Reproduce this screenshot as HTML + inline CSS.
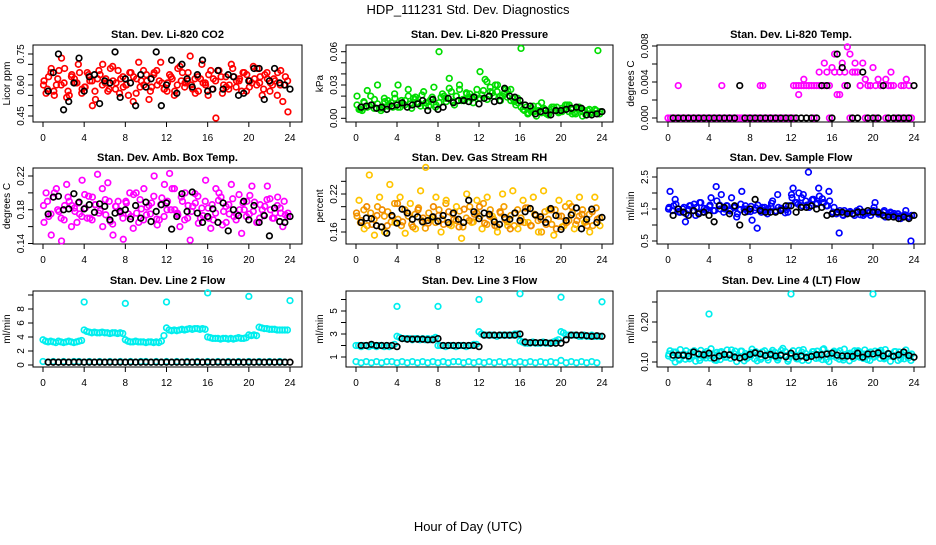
<!DOCTYPE html>
<html><head><meta charset="utf-8"><style>
html,body{margin:0;padding:0;background:#fff}
svg text{font-family:"Liberation Sans",sans-serif}
</style></head><body>
<svg id="c" width="936" height="540" viewBox="0 0 936 540" xmlns="http://www.w3.org/2000/svg">
<text x="468" y="14" font-size="13" text-anchor="middle">HDP_111231  Std. Dev. Diagnostics</text>
<text x="468" y="531" font-size="13" text-anchor="middle">Hour of Day (UTC)</text>
</svg>
<script>
// ---- data ----
const co2Red = [0.62,0.58,0.66,0.55,0.63,0.60,0.68,0.57,0.64,0.61,0.70,0.56,0.59,0.65,0.62,0.53,0.67,0.60,0.63,0.58,0.69,0.61,0.56,0.64,0.60,0.66,0.52,0.63,0.59,0.67,0.62,0.57,0.65,0.60,0.71,0.58,0.61,0.64,0.55,0.68,0.62,0.59,0.66,0.60,0.63,0.57,0.70,0.61,0.65,0.58,0.62,0.67,0.56,0.64,0.60,0.68,0.59,0.63,0.66,0.57,0.62,0.69,0.60,0.64,0.58,0.66,0.61,0.63,0.55,0.67,0.60,0.62];
const co2RedB = [0.56,0.68,0.60,0.73,0.54,0.65,0.61,0.58,0.66,0.50,0.63,0.70,0.57,0.62,0.67,0.59,0.55,0.64,0.71,0.60,0.53,0.66,0.62,0.58,0.65,0.57,0.69,0.61,0.74,0.56,0.63,0.60,0.67,0.44,0.64,0.59,0.70,0.62,0.57,0.65,0.61,0.68,0.55,0.63,0.60,0.66,0.52,0.47];
const co2RedC = [0.60,0.64,0.57,0.67,0.61,0.55,0.63,0.66,0.59,0.62,0.57,0.65,0.61,0.68,0.58,0.63,0.60,0.66,0.56,0.62,0.65,0.59,0.67,0.61,0.57,0.63,0.60,0.66,0.62,0.58,0.64,0.61,0.55,0.63,0.67,0.60,0.58,0.64,0.62,0.66,0.59,0.63,0.61,0.65,0.57,0.62,0.60,0.64];
const co2Black = [0.57,0.66,0.75,0.48,0.52,0.61,0.73,0.57,0.64,0.65,0.51,0.62,0.61,0.76,0.54,0.63,0.61,0.50,0.65,0.59,0.63,0.76,0.50,0.60,0.72,0.56,0.70,0.63,0.59,0.65,0.72,0.57,0.58,0.67,0.58,0.65,0.64,0.55,0.56,0.62,0.68,0.68,0.53,0.62,0.68,0.61,0.60,0.58];
const presGreen = [0.012,0.008,0.015,0.010,0.020,0.009,0.013,0.007,0.018,0.011,0.014,0.022,0.010,0.016,0.012,0.020,0.009,0.017,0.013,0.021,0.011,0.015,0.019,0.010,0.014,0.022,0.018,0.027,0.015,0.020,0.030,0.017,0.023,0.019,0.014,0.021,0.018,0.025,0.033,0.028,0.020,0.024,0.016,0.022,0.019,0.026,0.015,0.018,0.010,0.007,0.004,0.009,0.006,0.011,0.005,0.008,0.003,0.010,0.007,0.005,0.009,0.012,0.006,0.008,0.004,0.010,0.006,0.003,0.008,0.005,0.007,0.004];
const presGreenB = [0.020,0.007,0.025,0.012,0.030,0.009,0.016,0.010,0.030,0.013,0.026,0.018,0.014,0.024,0.011,0.028,0.060,0.020,0.036,0.012,0.026,0.016,0.022,0.019,0.042,0.035,0.024,0.030,0.020,0.026,0.016,0.012,0.063,0.010,0.006,0.002,0.014,0.004,0.008,0.010,0.006,0.012,0.004,0.009,0.002,0.007,0.005,0.061];
const presGreenC = [0.008,0.014,0.011,0.017,0.009,0.015,0.012,0.018,0.010,0.016,0.013,0.019,0.011,0.014,0.017,0.012,0.019,0.015,0.024,0.020,0.016,0.022,0.018,0.026,0.021,0.017,0.023,0.030,0.020,0.025,0.018,0.014,0.008,0.005,0.011,0.007,0.009,0.004,0.010,0.006,0.008,0.012,0.005,0.009,0.007,0.004,0.008,0.006];
const presBlack = [0.010,0.011,0.012,0.009,0.010,0.008,0.011,0.012,0.014,0.010,0.012,0.013,0.016,0.007,0.017,0.008,0.010,0.018,0.014,0.016,0.016,0.015,0.019,0.013,0.018,0.020,0.015,0.016,0.027,0.020,0.019,0.016,0.012,0.011,0.004,0.006,0.007,0.003,0.007,0.007,0.008,0.009,0.010,0.009,0.003,0.003,0.004,0.006];
const tempMag = [0,0,0,0,0.0036,0,0,0,0,0,0,0,0,0,0,0,0,0,0,0,0,0.0036,0,0,0,0,0,0,0,0,0,0,0,0,0,0,0.0036,0.0036,0,0,0,0,0,0,0,0,0,0,
0,0.0036,0.0036,0.0026,0.0036,0.0043,0.0036,0.0036,0.0036,0.0036,0.0036,0.0051,0.0036,0.0061,0.0051,0.0036,0.0056,0.0071,0.0026,0.0051,0.0061,0.0036,0.0079,0.0071,0.0051,0.0061,0.0051,0.0036,0.0061,0.0043,0.0036,0.0036,0.0056,0.0036,0.0043,0.0036,0.0036,0.0043,0.0036,0.0051,0.0036,0,0,0,0.0036,0.0043,0.0036,0];
const tempMagB = [0,0,0,0,0,0,0,0,0,0,0,0,0,0,0,0,0,0,0,0,0,0,0,0,0,0.0036,0.0036,0.0036,0,0.0036,0.0036,0,0.0051,0.0026,0.0051,0,0.0051,0.0036,0,0.0036,0,0.0036,0,0.0036,0,0.0036,0,0];
const tempBlack = [0,0,0,0,0,0,0,0,0,0,0,0,0,0.0036,0,0,0,0,0,0,0,0,0,0,0,0,0,0,0,0.0036,0.0036,0,0.0071,0.0056,0.0036,0,0,0.0051,0,0,0,0.0036,0,0,0,0,0,0.0036];
const ambMag = [0.165,0.190,0.175,0.200,0.180,0.170,0.185,0.195,0.160,0.178,0.188,0.172,0.182,0.196,0.168,0.186,0.176,0.205,0.174,0.190,0.163,0.184,0.179,0.170,0.188,0.200,0.158,0.176,0.192,0.168,0.183,0.175,0.196,0.162,0.186,0.172,0.190,0.180,0.205,0.174,0.195,0.168,0.185,0.178,0.199,0.164,0.182,0.190,0.170,0.186,0.176,0.200,0.162,0.184,0.175,0.193,0.168,0.180,0.188,0.172,0.197,0.178,0.165,0.186,0.174,0.192,0.180,0.170,0.185,0.176,0.190,0.172];
const ambMagB = [0.200,0.150,0.205,0.143,0.210,0.185,0.165,0.215,0.170,0.195,0.222,0.160,0.212,0.150,0.190,0.145,0.175,0.198,0.165,0.205,0.185,0.220,0.168,0.210,0.223,0.180,0.160,0.200,0.144,0.188,0.170,0.215,0.158,0.205,0.195,0.165,0.210,0.175,0.152,0.190,0.208,0.165,0.180,0.208,0.170,0.195,0.160,0.176];
const ambMagC = [0.185,0.172,0.195,0.178,0.168,0.190,0.182,0.175,0.198,0.170,0.186,0.179,0.192,0.166,0.184,0.176,0.190,0.172,0.200,0.181,0.174,0.188,0.169,0.194,0.180,0.205,0.176,0.190,0.170,0.184,0.196,0.173,0.182,0.168,0.191,0.178,0.186,0.172,0.198,0.180,0.175,0.189,0.170,0.184,0.193,0.176,0.182,0.174];
const ambBlack = [0.175,0.195,0.196,0.180,0.181,0.199,0.189,0.181,0.186,0.177,0.187,0.184,0.168,0.176,0.178,0.180,0.169,0.185,0.170,0.189,0.166,0.178,0.186,0.188,0.157,0.172,0.199,0.178,0.201,0.176,0.165,0.172,0.181,0.165,0.188,0.155,0.180,0.173,0.190,0.168,0.185,0.165,0.173,0.149,0.182,0.166,0.165,0.172];
const rhOrange = [0.185,0.175,0.195,0.170,0.190,0.180,0.200,0.168,0.185,0.192,0.176,0.205,0.180,0.170,0.195,0.185,0.172,0.188,0.198,0.178,0.166,0.190,0.183,0.175,0.195,0.180,0.205,0.172,0.188,0.178,0.193,0.168,0.182,0.200,0.176,0.190,0.185,0.205,0.172,0.195,0.180,0.168,0.190,0.200,0.176,0.186,0.170,0.195,0.182,0.175,0.198,0.170,0.188,0.178,0.160,0.192,0.180,0.172,0.195,0.185,0.168,0.200,0.178,0.190,0.172,0.185,0.195,0.176,0.188,0.170,0.198,0.182];
const rhOrangeB = [0.210,0.165,0.250,0.155,0.215,0.160,0.235,0.175,0.215,0.158,0.205,0.165,0.225,0.262,0.180,0.215,0.160,0.210,0.170,0.200,0.150,0.220,0.175,0.210,0.165,0.215,0.185,0.160,0.220,0.170,0.225,0.165,0.210,0.175,0.215,0.160,0.225,0.195,0.155,0.210,0.170,0.205,0.165,0.215,0.175,0.160,0.215,0.170];
const rhOrangeC = [0.190,0.178,0.200,0.172,0.186,0.195,0.170,0.184,0.205,0.176,0.190,0.168,0.195,0.182,0.174,0.200,0.186,0.172,0.192,0.180,0.168,0.196,0.178,0.188,0.200,0.174,0.185,0.170,0.192,0.180,0.165,0.190,0.176,0.198,0.170,0.186,0.180,0.172,0.195,0.165,0.185,0.175,0.200,0.178,0.188,0.170,0.192,0.180];
const rhBlack = [0.175,0.182,0.181,0.170,0.168,0.158,0.186,0.174,0.196,0.190,0.180,0.184,0.176,0.178,0.184,0.177,0.186,0.175,0.190,0.180,0.175,0.210,0.192,0.181,0.190,0.188,0.176,0.172,0.183,0.180,0.190,0.178,0.192,0.197,0.187,0.184,0.175,0.197,0.186,0.164,0.178,0.187,0.198,0.165,0.180,0.196,0.175,0.183];
const flowBlue = [1.55,1.45,1.65,1.40,1.50,1.35,1.60,1.45,1.55,1.70,1.40,1.50,1.62,1.45,1.75,1.50,1.40,1.60,1.48,1.55,1.35,1.65,1.50,1.42,1.58,1.46,1.62,1.40,1.55,1.50,1.68,1.42,1.55,1.48,1.38,1.60,1.85,1.70,2.00,1.60,1.75,1.55,1.80,1.65,1.90,1.70,1.60,1.75,1.40,1.35,1.45,1.30,1.38,1.42,1.35,1.45,1.32,1.40,1.38,1.30,1.55,1.40,1.35,1.45,1.32,1.38,1.30,1.35,1.28,1.32,1.25,1.30];
const flowBlueB = [2.05,1.80,1.40,1.10,1.60,1.30,1.70,1.45,1.85,2.20,1.95,1.60,1.85,1.25,2.05,1.50,1.15,0.90,1.55,1.35,1.75,1.95,1.50,1.40,2.15,1.65,1.95,2.65,1.80,2.15,1.70,2.05,1.55,0.75,1.45,1.40,1.30,1.50,1.35,1.40,1.70,1.35,1.25,1.40,1.30,1.20,1.45,0.50];
const flowBlueC = [1.50,1.60,1.42,1.55,1.48,1.65,1.40,1.52,1.58,1.45,1.62,1.50,1.44,1.56,1.48,1.60,1.42,1.54,1.50,1.46,1.58,1.44,1.52,1.48,1.95,1.70,1.85,1.62,1.78,1.68,1.82,1.60,1.35,1.40,1.32,1.38,1.36,1.42,1.30,1.38,1.45,1.34,1.40,1.32,1.36,1.28,1.30,1.26];
const flowBlack = [1.30,1.50,1.40,1.30,1.45,1.35,1.40,1.30,1.10,1.60,1.55,1.35,1.60,1.00,1.40,1.50,1.80,1.45,1.40,1.40,1.40,1.45,1.60,1.60,1.40,1.55,1.55,1.60,1.50,1.55,1.30,1.35,1.40,1.40,1.35,1.35,1.40,1.40,1.45,1.40,1.40,1.30,1.25,1.25,1.20,1.25,1.20,1.30];
const line2Cyan = [3.6,3.4,3.3,3.4,3.3,3.2,3.4,3.3,3.2,3.3,3.4,3.3,3.2,3.3,3.4,3.5,5.0,4.8,4.7,4.6,4.7,4.6,4.6,4.7,4.6,4.6,4.5,4.6,4.6,4.5,4.6,4.5,3.6,3.4,3.3,3.3,3.4,3.3,3.3,3.3,3.2,3.3,3.3,3.2,3.3,3.2,3.4,4.2,5.3,5.0,4.9,5.0,4.9,5.0,5.1,5.0,5.1,5.2,5.1,5.2,5.2,5.1,5.2,5.1,4.0,3.9,3.8,3.8,3.8,3.7,3.8,3.8,3.7,3.8,3.7,3.8,3.9,3.8,3.8,3.9,4.3,4.2,4.3,4.2,5.4,5.3,5.2,5.2,5.1,5.1,5.1,5.0,5.0,5.0,5.0,5.0];
const line2Low = [0.5,0.4,0.5,0.4,0.5,0.4,0.5,0.5,0.4,0.5,0.4,0.5,0.4,0.5,0.4,0.5,0.4,0.5,0.4,0.5,0.5,0.4,0.5,0.4,0.5,0.4,0.5,0.4,0.5,0.4,0.5,0.4,0.5,0.4,0.5,0.4,0.5,0.4,0.5,0.4,0.5,0.4,0.5,0.4,0.5,0.4,0.5,0.4];
const line2Black = [0.4,0.4,0.4,0.4,0.4,0.4,0.4,0.4,0.4,0.4,0.4,0.4,0.4,0.4,0.4,0.4,0.4,0.4,0.4,0.4,0.4,0.4,0.4,0.4,0.4,0.4,0.4,0.4,0.4,0.4,0.4,0.4,0.4,0.4,0.4,0.4,0.4,0.4,0.4,0.4,0.4,0.4,0.4,0.4,0.4,0.4,0.4,0.4];
const line2OutHours = [4, 8, 12, 16, 20, 24];
const line2OutVals = [9.0, 8.8, 9.0, 10.3, 9.8, 9.2];
const line3Cyan = [2.0,2.0,1.9,2.0,2.0,1.9,2.0,2.0,1.9,2.0,2.0,1.9,2.0,1.9,2.0,2.1,2.8,2.7,2.6,2.6,2.6,2.6,2.5,2.6,2.6,2.5,2.6,2.5,2.6,2.5,2.6,2.7,2.0,2.0,2.0,1.9,2.0,2.0,2.0,1.9,2.0,2.0,2.0,1.9,2.0,2.0,2.1,2.1,3.2,3.0,2.9,2.9,2.9,2.9,2.9,2.8,2.9,2.9,2.9,2.9,2.9,2.9,3.0,3.0,2.4,2.3,2.2,2.2,2.2,2.3,2.2,2.2,2.2,2.3,2.2,2.2,2.2,2.3,2.4,2.5,3.2,3.1,2.9,2.9,2.9,2.9,2.9,2.8,2.8,2.9,2.8,2.8,2.9,2.8,2.8,2.8];
const line3Low = [0.6,0.5,0.6,0.5,0.6,0.5,0.6,0.6,0.5,0.6,0.5,0.6,0.5,0.6,0.5,0.6,0.5,0.6,0.5,0.6,0.6,0.5,0.6,0.5,0.6,0.5,0.6,0.5,0.6,0.5,0.6,0.5,0.6,0.5,0.6,0.5,0.6,0.5,0.6,0.5,0.7,0.5,0.6,0.5,0.6,0.5,0.6,0.5];
const line3Black = [2.0,2.0,2.1,2.0,2.0,2.0,2.0,1.9,2.6,2.55,2.55,2.55,2.55,2.5,2.5,2.6,2.0,2.0,2.0,2.0,2.0,2.0,2.0,1.9,2.9,2.9,2.9,2.9,2.9,2.9,2.9,3.0,2.3,2.25,2.25,2.25,2.25,2.2,2.2,2.2,2.5,2.9,2.9,2.9,2.85,2.8,2.85,2.8];
const line3OutHours = [4, 8, 12, 16, 20, 24];
const line3OutVals = [5.4, 5.4, 6.0, 6.5, 6.2, 5.8];
const line4Cyan = [0.120,0.110,0.125,0.105,0.115,0.128,0.108,0.118,0.122,0.104,0.113,0.126,0.110,0.119,0.124,0.106,0.116,0.130,0.109,0.121,0.114,0.127,0.103,0.117,0.123,0.108,0.119,0.112,0.128,0.105,0.116,0.124,0.110,0.120,0.126,0.107,0.118,0.113,0.129,0.104,0.121,0.115,0.126,0.109,0.119,0.131,0.106,0.117,0.124,0.111,0.128,0.105,0.118,0.122,0.109,0.127,0.114,0.120,0.106,0.125,0.112,0.118,0.129,0.108,0.121,0.115,0.126,0.104,0.117,0.123,0.110,0.120];
const line4CyanB = [0.128,0.100,0.131,0.107,0.124,0.102,0.129,0.110,0.133,0.104,0.126,0.112,0.130,0.101,0.127,0.109,0.132,0.103,0.125,0.111,0.129,0.105,0.134,0.102,0.128,0.108,0.131,0.104,0.126,0.110,0.133,0.101,0.127,0.107,0.132,0.103,0.128,0.112,0.130,0.104,0.127,0.109,0.131,0.102,0.126,0.108,0.130,0.104];
const line4CyanC = [0.115,0.125,0.108,0.120,0.113,0.128,0.110,0.122,0.117,0.105,0.124,0.112,0.119,0.127,0.109,0.121,0.114,0.126,0.107,0.118,0.123,0.111,0.129,0.116,0.120,0.108,0.125,0.113,0.119,0.127,0.106,0.122,0.115,0.124,0.110,0.121,0.118,0.128,0.109,0.123,0.114,0.126,0.111,0.120,0.116,0.125,0.108,0.119];
const line4Black = [0.117,0.117,0.117,0.115,0.125,0.120,0.118,0.122,0.110,0.115,0.119,0.118,0.112,0.110,0.113,0.119,0.123,0.120,0.116,0.119,0.115,0.117,0.113,0.122,0.113,0.115,0.111,0.114,0.118,0.118,0.120,0.122,0.117,0.115,0.115,0.114,0.122,0.112,0.120,0.120,0.123,0.115,0.121,0.114,0.118,0.125,0.116,0.112];
const line4OutHours = [4, 12, 20];
const line4OutVals = [0.22, 0.27, 0.27];
const xTicks = [0, 4, 8, 12, 16, 20, 24];

// ---- drawing ----
const svg = document.getElementById('c');
const NS = 'http://www.w3.org/2000/svg';
function mk(tag, attrs) { const e = document.createElementNS(NS, tag); for (const k in attrs) e.setAttribute(k, attrs[k]); svg.appendChild(e); return e; }
const cols = [{l:33,r:302,x0:43,x24:290},{l:346,r:613,x0:356,x24:602},{l:657,r:925,x0:668,x24:914}];
const rows = [{t:45,b:122},{t:168,b:244},{t:291,b:367}];

function panel(name, title, ytitle, ci, ri, v0, p0, v1, p1, ticks, labels, dec, series) {
  const c = cols[ci], r = rows[ri];
  const xs = h => c.x0 + (c.x24 - c.x0) * h / 24;
  const ys = v => p0 + (p1 - p0) * (v - v0) / (v1 - v0);
  const g = mk('g', {});
  
  
  const box = mk('rect', {x:c.l, y:r.t, width:c.r-c.l, height:r.b-r.t, fill:'none', stroke:'#000', 'stroke-width':1});
  
  
  const t = mk('text', {x:(c.l+c.r)/2, y:r.t-7, 'font-size':11, 'font-weight':'bold', 'text-anchor':'middle'});
  t.textContent = title;
  
  
  const yt = mk('text', {transform:`translate(${c.l-23},${(r.t+r.b)/2}) rotate(-90)`, 'font-size':10, 'text-anchor':'middle'});
  yt.textContent = ytitle;
  
  
  mk('line', {x1:xs(0), x2:xs(24), y1:r.b, y2:r.b, stroke:'#000'});
  xTicks.forEach(h => {
    mk('line', {x1:xs(h), x2:xs(h), y1:r.b, y2:r.b+5, stroke:'#000'});
    const tl = mk('text', {x:xs(h), y:r.b+19, 'font-size':10, 'text-anchor':'middle'});
    tl.textContent = h;
    
    
  });
  mk('line', {x1:c.l, x2:c.l, y1:ys(ticks[0]), y2:ys(ticks[ticks.length-1]), stroke:'#000'});
  ticks.forEach(v => mk('line', {x1:c.l-5, x2:c.l, y1:ys(v), y2:ys(v), stroke:'#000'}));
  labels.forEach(v => {
    const yl = mk('text', {transform:`translate(${c.l-9},${ys(v)}) rotate(-90)`, 'font-size':10, 'text-anchor':'middle'});
    yl.textContent = v.toFixed(dec);
    
    
  });
  series.forEach(s => {
    s.vals.forEach((v, i) => {
      const h = s.hours ? s.hours[i] : s.start + i * s.step;
      const m = mk('circle', {cx:xs(h), cy:ys(v), r:2.8, fill:'none', stroke:s.color, 'stroke-width':1.7});
      
      
    });
  });
}
const tk = (a, b, s) => { const o = []; for (let v = a; v <= b + 1e-9; v += s) o.push(+v.toFixed(6)); return o; };

panel('co2', 'Stan. Dev. Li-820 CO2', 'Licor ppm', 0, 0, 0.45, 116, 0.75, 54, tk(0.45,0.75,0.05), [0.45,0.60,0.75], 2,
  [{vals:co2Red,start:0.1,step:1/3,color:'#ff0000'},{vals:co2RedB,start:0.3,step:0.5,color:'#ff0000'},{vals:co2RedC,start:0.05,step:0.5,color:'#ff0000'},{vals:co2Black,start:0.5,step:0.5,color:'#000'}]);
panel('pressure', 'Stan. Dev. Li-820 Pressure', 'kPa', 1, 0, 0, 118.3, 0.06, 51.7, tk(0,0.06,0.01), [0,0.03,0.06], 2,
  [{vals:presGreen,start:0.1,step:1/3,color:'#00dd00'},{vals:presGreenB,start:0.1,step:0.5,color:'#00dd00'},{vals:presGreenC,start:0.3,step:0.5,color:'#00dd00'},{vals:presBlack,start:0.5,step:0.5,color:'#000'}]);
panel('li820-temp', 'Stan. Dev. Li-820 Temp.', 'degrees C', 2, 0, 0, 118, 0.008, 46, tk(0,0.008,0.002), [0,0.004,0.008], 3,
  [{vals:tempMag,start:0,step:0.25,color:'#ff00ff'},{vals:tempMagB,start:0.25,step:0.5,color:'#ff00ff'},{vals:tempBlack,start:0.5,step:0.5,color:'#000'}]);
panel('amb-temp', 'Stan. Dev. Amb. Box Temp.', 'degrees C', 0, 1, 0.14, 243.5, 0.22, 176, tk(0.14,0.22,0.02), [0.14,0.18,0.22], 2,
  [{vals:ambMag,start:0.1,step:1/3,color:'#ff00ff'},{vals:ambMagB,start:0.3,step:0.5,color:'#ff00ff'},{vals:ambMagC,start:0.05,step:0.5,color:'#ff00ff'},{vals:ambBlack,start:0.5,step:0.5,color:'#000'}]);
panel('rh', 'Stan. Dev. Gas Stream RH', 'percent', 1, 1, 0.16, 232, 0.22, 194, tk(0.16,0.24,0.02), [0.16,0.22], 2,
  [{vals:rhOrange,start:0.1,step:1/3,color:'#f5a000'},{vals:rhOrangeB,start:0.3,step:0.5,color:'#ffc400'},{vals:rhOrangeC,start:0.05,step:0.5,color:'#f08a00'},{vals:rhBlack,start:0.5,step:0.5,color:'#000'}]);
panel('sample-flow', 'Stan. Dev. Sample Flow', 'ml/min', 2, 1, 0.5, 241, 2.5, 177, tk(0.5,2.5,0.5), [0.5,1.5,2.5], 1,
  [{vals:flowBlue,start:0.1,step:1/3,color:'#0000ff'},{vals:flowBlueB,start:0.2,step:0.5,color:'#0000ff'},{vals:flowBlueC,start:0.05,step:0.5,color:'#0000ff'},{vals:flowBlack,start:0.5,step:0.5,color:'#000'}]);
panel('line2-flow', 'Stan. Dev. Line 2 Flow', 'ml/min', 0, 2, 0, 365, 8, 309, tk(0,10,2), [0,2,4,6,8], 0,
  [{vals:line2Cyan,start:0,step:0.25,color:'#00eeee'},{vals:line2Low,start:0,step:0.5,color:'#00eeee'},{vals:line2OutVals,hours:line2OutHours,color:'#00eeee'},{vals:line2Black,start:0.5,step:0.5,color:'#000'}]);
panel('line3-flow', 'Stan. Dev. Line 3 Flow', 'ml/min', 1, 2, 1, 357, 5, 311, tk(1,6,1), [1,3,5], 0,
  [{vals:line3Cyan,start:0,step:0.25,color:'#00eeee'},{vals:line3Low,start:0,step:0.5,color:'#00eeee'},{vals:line3OutVals,hours:line3OutHours,color:'#00eeee'},{vals:line3Black,start:0.5,step:0.5,color:'#000'}]);
panel('line4-flow', 'Stan. Dev. Line 4 (LT) Flow', 'ml/min', 2, 2, 0.10, 362, 0.20, 322, tk(0.10,0.25,0.05), [0.10,0.20], 2,
  [{vals:line4Cyan,start:0.1,step:1/3,color:'#00eeee'},{vals:line4CyanB,start:0.2,step:0.5,color:'#00eeee'},{vals:line4CyanC,start:0.05,step:0.5,color:'#00eeee'},{vals:line4OutVals,hours:line4OutHours,color:'#00eeee'},{vals:line4Black,start:0.5,step:0.5,color:'#000'}]);
</script>
</body></html>
